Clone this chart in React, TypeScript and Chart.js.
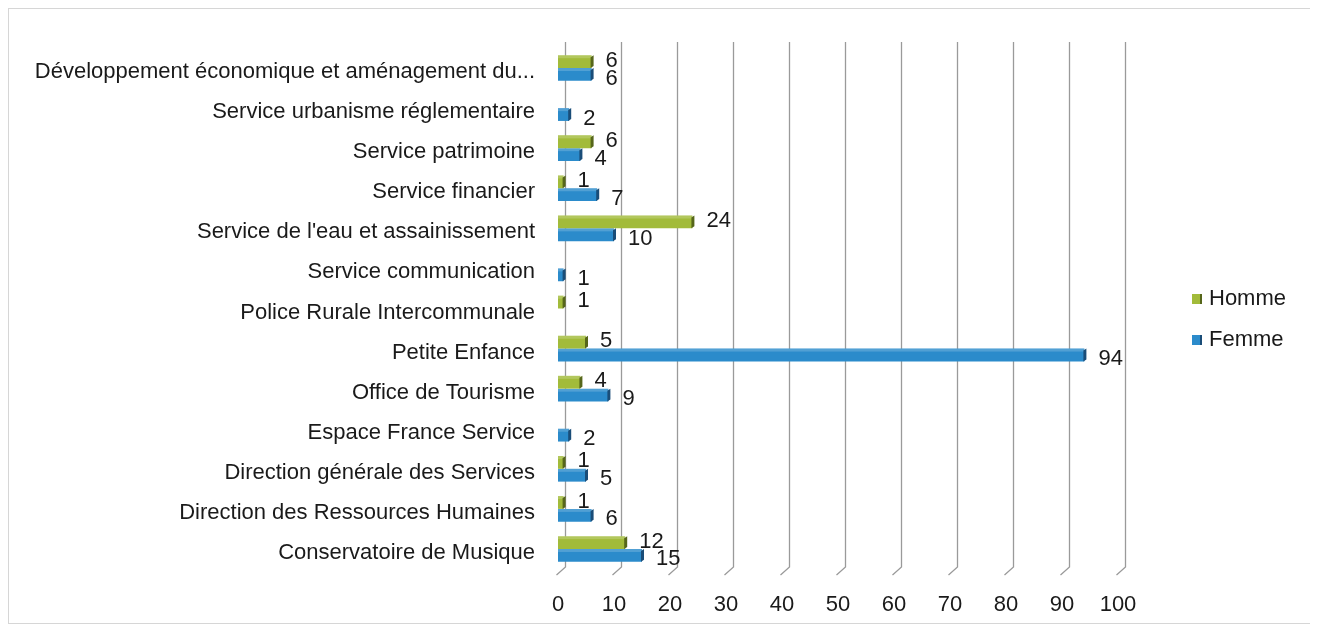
import React, { useEffect, useRef } from "react";
import { Chart, registerables } from "chart.js";

Chart.register(...registerables);

const categories = [
  "Développement économique et aménagement du...",
  "Service urbanisme réglementaire",
  "Service patrimoine",
  "Service financier",
  "Service de l'eau et assainissement",
  "Service communication",
  "Police Rurale Intercommunale",
  "Petite Enfance",
  "Office de Tourisme",
  "Espace France Service",
  "Direction générale des Services",
  "Direction des Ressources Humaines",
  "Conservatoire de Musique",
];

const hommeValues: (number | null)[] = [6, null, 6, 1, 24, null, 1, 5, 4, null, 1, 1, 12];
const femmeValues: (number | null)[] = [6, 2, 4, 7, 10, 1, null, 94, 9, 2, 5, 6, 15];

const xTickValues = [0, 10, 20, 30, 40, 50, 60, 70, 80, 90, 100];

const seriesNames = ["Homme", "Femme"];
const seriesColors = ["#a2bb3a", "#2b8bcb"];
const seriesEdgeColors = ["#56661a", "#1a4d78"];

const FONT = "'Liberation Sans', Arial, sans-serif";
const TEXT_COLOR = "#1a1a1a";

const backGridPlugin = {
  id: "backGrid",
  beforeDatasetsDraw(chart: any) {
    const { ctx, chartArea, scales } = chart;
    const xs = scales.x;
    ctx.save();
    ctx.strokeStyle = "#9a9a9a";
    ctx.lineWidth = 1.3;
    for (const v of xTickValues) {
      const px = Math.round(xs.getPixelForValue(v)) + 7.5;
      ctx.beginPath();
      ctx.moveTo(px, chartArea.top - 6);
      ctx.lineTo(px, chartArea.bottom - 2);
      ctx.lineTo(px - 9, chartArea.bottom + 6);
      ctx.stroke();
    }
    ctx.restore();
  },
};

const barEdgePlugin = {
  id: "barEdges",
  afterDatasetsDraw(chart: any) {
    const { ctx } = chart;
    ctx.save();
    chart.data.datasets.forEach((ds: any, di: number) => {
      const meta = chart.getDatasetMeta(di);
      meta.data.forEach((el: any, i: number) => {
        if (ds.data[i] == null) return;
        const { x, y, height } = el.getProps(["x", "y", "height"], true);
        const top = y - height / 2;
        const bottom = y + height / 2;
        ctx.fillStyle = "rgba(255,255,255,0.18)";
        ctx.fillRect(el.base, top, x - el.base, 3);
        ctx.fillStyle = seriesEdgeColors[di];
        ctx.beginPath();
        ctx.moveTo(x - 1, top + 2);
        ctx.lineTo(x + 2, top);
        ctx.lineTo(x + 2, bottom - 2);
        ctx.lineTo(x - 1, bottom);
        ctx.closePath();
        ctx.fill();
      });
    });
    ctx.restore();
  },
};

const valueLabelPlugin = {
  id: "valueLabels",
  afterDatasetsDraw(chart: any) {
    const { ctx } = chart;
    ctx.save();
    ctx.font = `22px ${FONT}`;
    ctx.fillStyle = TEXT_COLOR;
    ctx.textAlign = "left";
    ctx.textBaseline = "middle";
    chart.data.datasets.forEach((ds: any, di: number) => {
      const meta = chart.getDatasetMeta(di);
      meta.data.forEach((el: any, i: number) => {
        const v = ds.data[i];
        if (v == null) return;
        const { x, y } = el.getProps(["x", "y"], true);
        const dy = di === 0 ? -1 : 4;
        ctx.fillText(String(v), x + 14, y + dy);
      });
    });
    ctx.restore();
  },
};

const customLegendPlugin = {
  id: "customLegend",
  afterDraw(chart: any) {
    const { ctx, chartArea } = chart;
    ctx.save();
    ctx.font = `22px ${FONT}`;
    ctx.textAlign = "left";
    ctx.textBaseline = "middle";
    const x0 = chartArea.right + 74;
    const ys = [290, 331];
    seriesNames.forEach((name, i) => {
      ctx.fillStyle = seriesColors[i];
      ctx.fillRect(x0, ys[i] - 5, 10, 10);
      ctx.fillStyle = seriesEdgeColors[i];
      ctx.fillRect(x0 + 8, ys[i] - 5, 2, 10);
      ctx.fillStyle = TEXT_COLOR;
      ctx.fillText(name, x0 + 17, ys[i]);
    });
    ctx.restore();
  },
};

export default function App() {
  const canvasRef = useRef<HTMLCanvasElement | null>(null);

  useEffect(() => {
    const canvas = canvasRef.current;
    if (!canvas) return;
    const chart = new Chart(canvas, {
      type: "bar",
      data: {
        labels: categories,
        datasets: [
          {
            label: seriesNames[0],
            data: hommeValues,
            backgroundColor: seriesColors[0],
            borderWidth: 0,
            categoryPercentage: 0.64,
            barPercentage: 1.0,
          },
          {
            label: seriesNames[1],
            data: femmeValues,
            backgroundColor: seriesColors[1],
            borderWidth: 0,
            categoryPercentage: 0.64,
            barPercentage: 1.0,
          },
        ],
      },
      options: {
        indexAxis: "y",
        responsive: false,
        animation: false,
        layout: { padding: { top: 39, right: 196, bottom: 0, left: 0 } },
        plugins: {
          legend: { display: false },
          tooltip: { enabled: false },
          title: { display: false },
        },
        scales: {
          x: {
            type: "linear",
            min: 0,
            max: 100,
            afterFit(scale: any) {
              scale.height = 54;
            },
            afterBuildTicks(scale: any) {
              scale.ticks = xTickValues.map((v) => ({ value: v }));
            },
            grid: { display: false, drawTicks: false },
            border: { display: false },
            ticks: {
              font: { size: 22, family: FONT },
              color: TEXT_COLOR,
              padding: 23,
              maxRotation: 0,
            },
          },
          y: {
            type: "category",
            afterFit(scale: any) {
              scale.width = 549;
            },
            grid: { display: false, drawTicks: false },
            border: { display: false },
            ticks: {
              font: { size: 22, family: FONT },
              color: TEXT_COLOR,
              padding: 23,
              labelOffset: 4,
              autoSkip: false,
            },
          },
        },
      },
      plugins: [backGridPlugin, barEdgePlugin, valueLabelPlugin, customLegendPlugin],
    } as any);
    return () => chart.destroy();
  }, []);

  return (
    <div
      style={{
        position: "relative",
        width: 1305,
        height: 614,
        border: "1px solid #d6d6d6",
        background: "#ffffff",
      }}
    >
      <canvas ref={canvasRef} width={1305} height={614} style={{ display: "block" }} />
    </div>
  );
}
